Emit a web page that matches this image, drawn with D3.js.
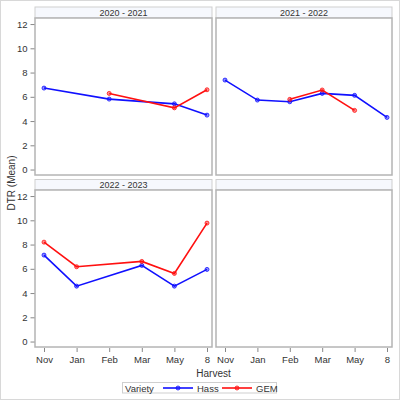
<!DOCTYPE html>
<html>
<head>
<meta charset="utf-8">
<script src="https://cdn.jsdelivr.net/npm/d3@7"></script>
<style>
  body { margin: 0; background: #fff; }
  text { font-family: "Liberation Sans", Arial, sans-serif; fill: #333; }
</style>
</head>
<body>
<svg id="chart" width="400" height="400"></svg>
<script>
// categories and values
const harvests = ["Nov", "Jan", "Feb", "Mar", "May", "8"];
const seasons = ["2020 - 2021", "2021 - 2022", "2022 - 2023"];
const yTicks = [0, 2, 4, 6, 8, 10, 12];

const hass2020 = [6.72, null, 5.81, null, 5.42, 4.49];
const gem2020 = [null, null, 6.28, null, 5.09, 6.58];
const hass2021 = [7.38, 5.73, 5.59, 6.28, 6.12, 4.30];
const gem2021 = [null, null, 5.79, 6.56, 4.88, null];
const hass2022 = [7.13, 4.57, null, 6.28, 4.57, 5.95];
const gem2022 = [8.20, 6.17, null, 6.61, 5.62, 9.77];

const varieties = ["Hass", "GEM"];
const colors = { Hass: "#1010ff", GEM: "#ff1010" };
const seriesBySeason = [
  { Hass: hass2020, GEM: gem2020 },
  { Hass: hass2021, GEM: gem2021 },
  { Hass: hass2022, GEM: gem2022 }
];

const svg = d3.select("#chart");

// outer frame
svg.append("rect")
  .attr("x", 0.5).attr("y", 0.5)
  .attr("width", 399).attr("height", 399)
  .attr("fill", "none").attr("stroke", "#d8d8d8");

// grid of panels
const cols = [[35, 212], [216, 392]];
const rows = [{ head: 7, top: 18, bottom: 175 }, { head: 179.5, top: 190, bottom: 347 }];

const panels = [];
for (let r = 0; r < 2; r++) {
  for (let c = 0; c < 2; c++) {
    panels.push({ r, c, idx: r * 2 + c });
  }
}

const line = d3.line().x(d => d.x).y(d => d.y);

panels.forEach(p => {
  const [x0, x1] = cols[p.c];
  const row = rows[p.r];
  const x = d3.scalePoint().domain(harvests).range([x0 + 9, x1 - 5]);
  const y = d3.scaleLinear().domain([-0.45, 12.5]).range([row.bottom, row.top]);
  const g = svg.append("g");

  // header strip
  g.append("rect")
    .attr("x", x0).attr("y", row.head)
    .attr("width", x1 - x0).attr("height", row.top - row.head)
    .attr("fill", "#f6f8fd").attr("stroke", "#cfcfcf");
  if (p.idx < seasons.length) {
    g.append("text")
      .attr("x", (x0 + x1) / 2).attr("y", row.top - 2.5)
      .attr("text-anchor", "middle")
      .attr("font-size", 9)
      .text(seasons[p.idx]);
  }

  // plot frame
  g.append("rect")
    .attr("x", x0).attr("y", row.top)
    .attr("width", x1 - x0).attr("height", row.bottom - row.top)
    .attr("fill", "#fff").attr("stroke", "#b4b4b4").attr("stroke-width", 1.5);

  // y axis on left column
  if (p.c === 0) {
    const ya = g.append("g")
      .attr("transform", `translate(${x0 - 0.5},0)`)
      .call(d3.axisLeft(y).tickValues(yTicks).tickSize(4).tickPadding(3));
    ya.select(".domain").remove();
    ya.selectAll("line").attr("stroke", "#888");
    ya.selectAll("text").attr("font-size", 9.5).attr("fill", "#333")
      .attr("font-family", "Liberation Sans, Arial, sans-serif");
  }

  // x axis on bottom row
  if (p.r === 1) {
    const xa = g.append("g")
      .attr("transform", `translate(0,${row.bottom + 1})`)
      .call(d3.axisBottom(x).tickSize(4).tickPadding(4));
    xa.select(".domain").remove();
    xa.selectAll("line").attr("stroke", "#888");
    xa.selectAll("text").attr("font-size", 9.5).attr("fill", "#333")
      .attr("font-family", "Liberation Sans, Arial, sans-serif");
  }

  if (p.idx >= seasons.length) return;

  varieties.forEach(v => {
    const pts = seriesBySeason[p.idx][v]
      .map((val, i) => ({ x: x(harvests[i]), y: val == null ? null : y(val) }))
      .filter(d => d.y != null);
    g.append("path")
      .attr("d", line(pts))
      .attr("fill", "none")
      .attr("stroke", colors[v])
      .attr("stroke-width", 1.6);
    g.selectAll(null)
      .data(pts)
      .enter()
      .append("circle")
      .attr("cx", d => d.x).attr("cy", d => d.y)
      .attr("r", 2)
      .attr("fill", colors[v]).attr("fill-opacity", 0.45)
      .attr("stroke", colors[v]).attr("stroke-width", 0.8);
  });
});

// axis titles
svg.append("text")
  .attr("transform", "translate(15,183) rotate(-90)")
  .attr("text-anchor", "middle")
  .attr("font-size", 10)
  .text("DTR (Mean)");

svg.append("text")
  .attr("x", 213.5).attr("y", 377)
  .attr("text-anchor", "middle")
  .attr("font-size", 10)
  .text("Harvest");

// legend
const lg = svg.append("g");
lg.append("rect")
  .attr("x", 122.5).attr("y", 382.5)
  .attr("width", 154).attr("height", 10.5)
  .attr("fill", "#fff").attr("stroke", "#cfcfcf");
lg.append("text")
  .attr("x", 125).attr("y", 391.5)
  .attr("font-size", 9.5)
  .text("Variety");

const legendX = [163, 222];
varieties.forEach((v, i) => {
  const lx = legendX[i];
  lg.append("line")
    .attr("x1", lx).attr("x2", lx + 30)
    .attr("y1", 388).attr("y2", 388)
    .attr("stroke", colors[v]).attr("stroke-width", 1.6);
  lg.append("circle")
    .attr("cx", lx + 15).attr("cy", 388).attr("r", 2)
    .attr("fill", colors[v]).attr("fill-opacity", 0.45)
    .attr("stroke", colors[v]).attr("stroke-width", 0.8);
  lg.append("text")
    .attr("x", lx + 34).attr("y", 391.5)
    .attr("font-size", 9.5)
    .text(v);
});
</script>
</body>
</html>
